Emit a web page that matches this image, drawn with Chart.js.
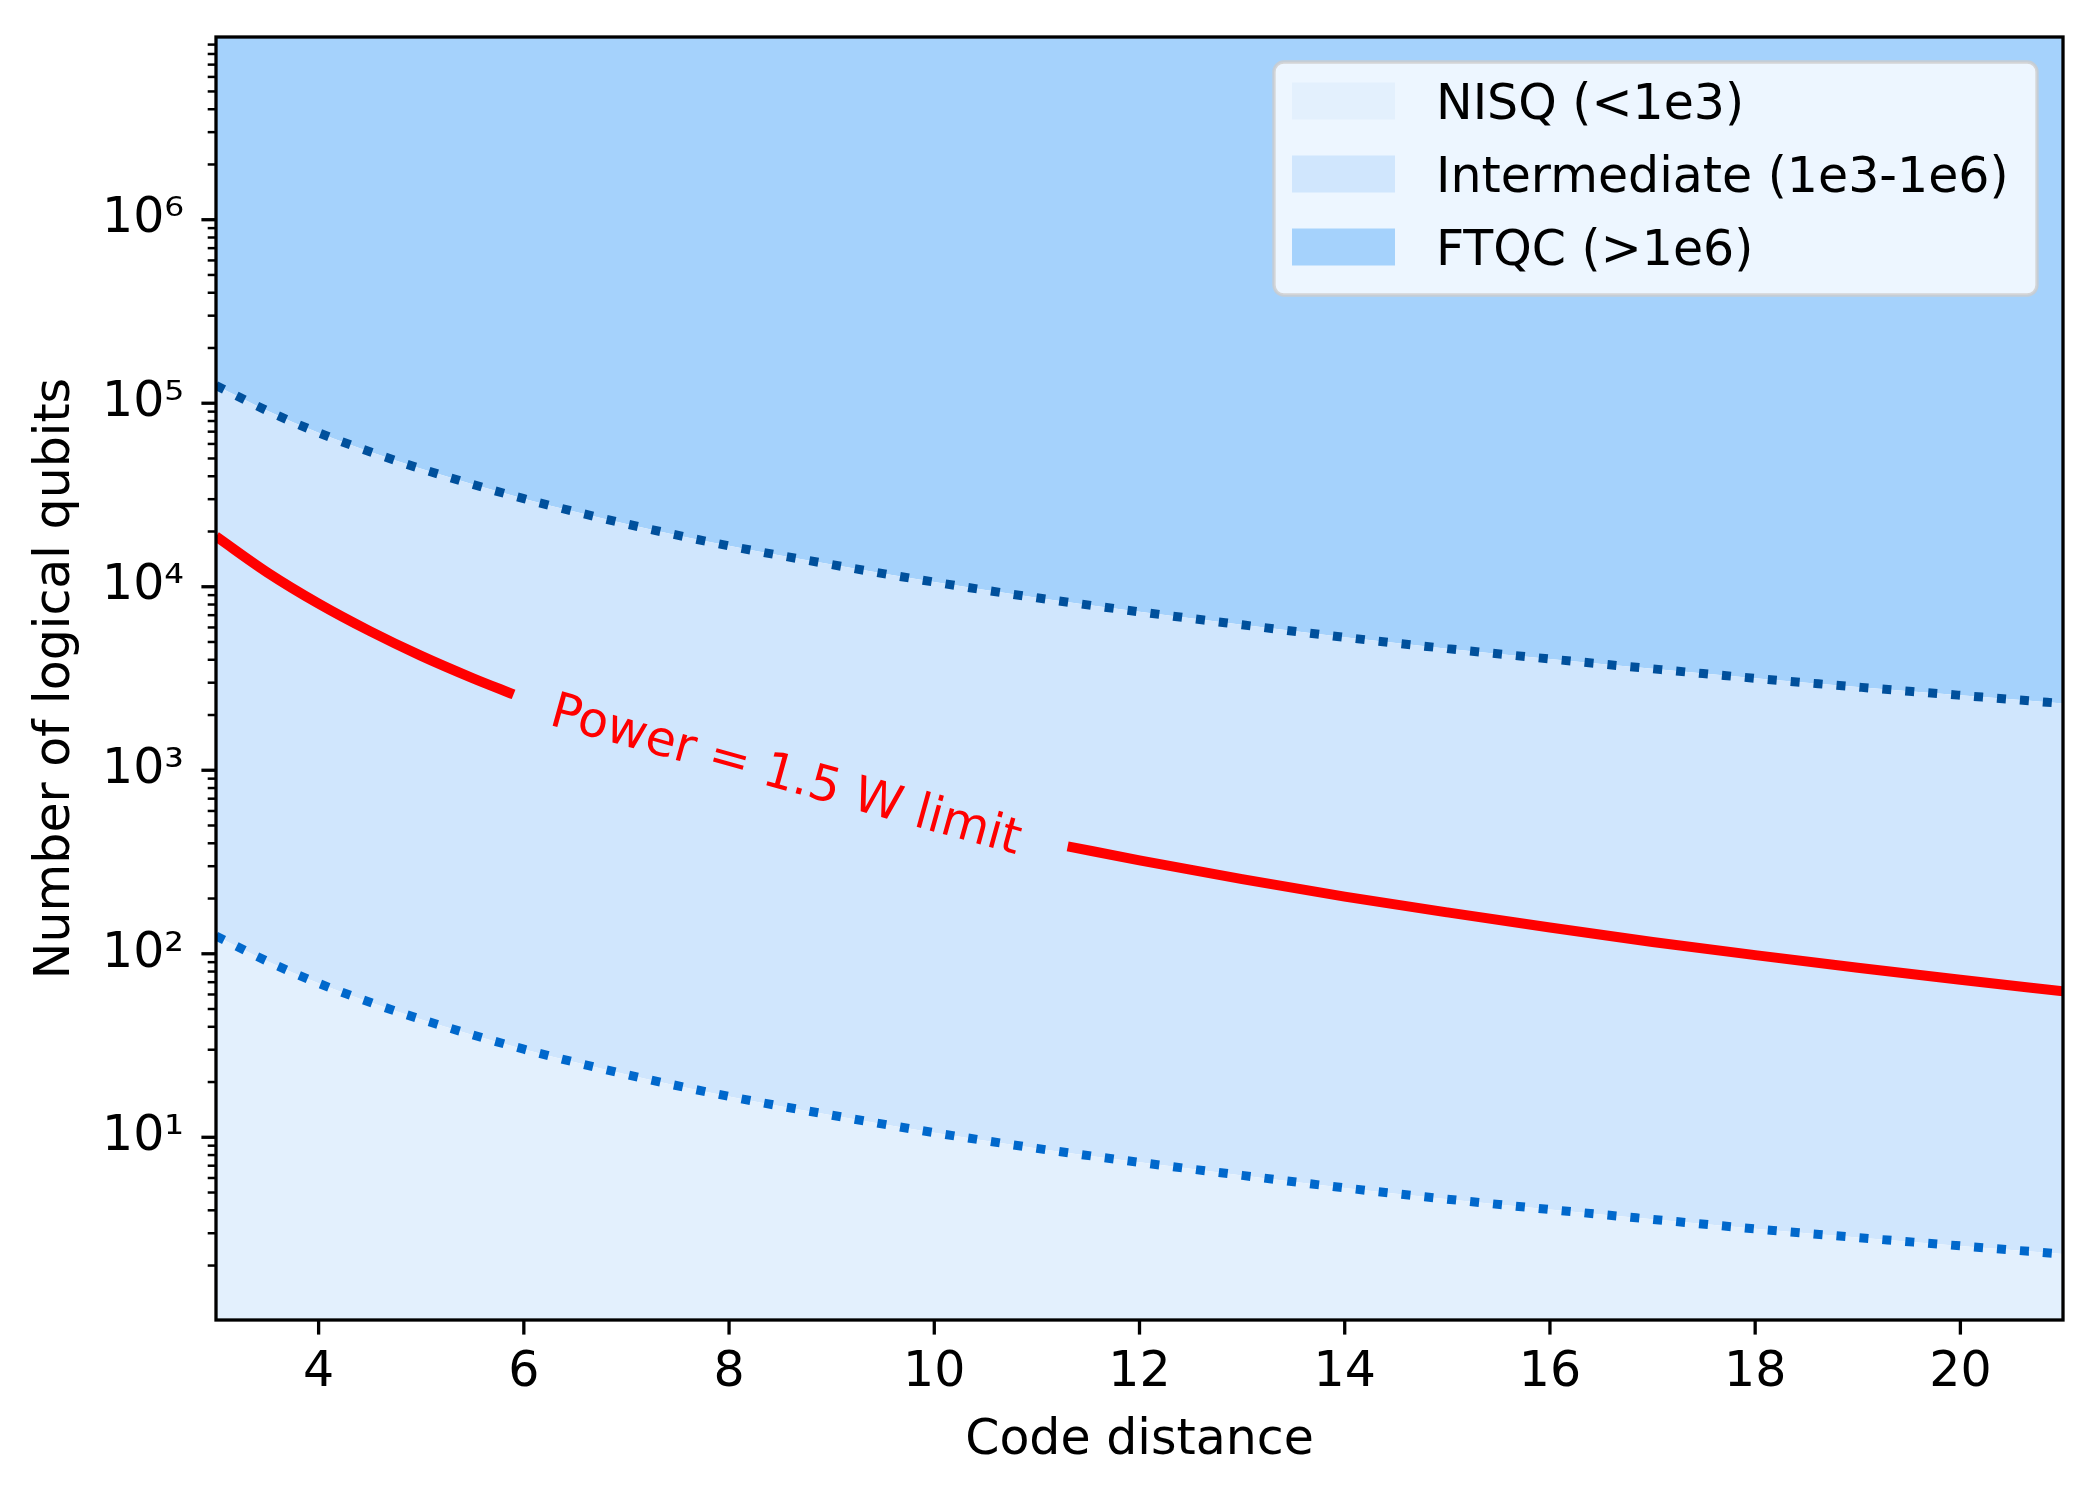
<!DOCTYPE html>
<html>
<head>
<meta charset="utf-8">
<script src="https://cdn.jsdelivr.net/npm/chart.js@4.4.0/dist/chart.umd.min.js"></script>
<style>
  body { margin: 0; background: #fff; }
  #wrap { width: 2100px; height: 1500px; }
</style>
</head>
<body>
<div id="wrap"><canvas id="chart" width="2100" height="1500"></canvas></div>
<script>
// values
const distances = [3, 3.5, 4, 4.5, 5, 6, 7, 8, 9, 10, 11, 12, 13, 14, 15, 16, 17, 18, 19, 20, 21];
const nisqLimit = [125, 91, 69, 54.4, 43.9, 30.2, 22.0, 16.7, 13.2, 10.6, 8.7, 7.3, 6.2, 5.3, 4.6, 4.04, 3.57, 3.17, 2.84, 2.56, 2.31];
const ftqcLimit = [125000, 91000, 69000, 54400, 43900, 30200, 22000, 16700, 13200, 10600, 8700, 7300, 6200, 5300, 4600, 4040, 3570, 3170, 2840, 2560, 2310];

// red power curve, broken where the label sits (null = gap)
const powerDistances = [3, 3.5, 4, 4.5, 5, 5.5, 5.9, 8.6, 11.3, 12, 13, 14, 15, 16, 17, 18, 19, 20, 21];
const powerQubits = [18800, 11960, 8090, 5730, 4200, 3180, 2590, null, 385, 323, 255, 205, 168, 139, 116, 98.3, 83.9, 72.1, 62.5];

const regionLabels = ['NISQ (<1e3)', 'Intermediate (1e3-1e6)', 'FTQC (>1e6)'];
const regionColors = ['#e3f0fd', '#d0e6fd', '#a5d2fc'];

const xTicks = [4, 6, 8, 10, 12, 14, 16, 18, 20];
const yMajorTicks = [10, 100, 1000, 10000, 100000, 1000000];
const yTickLabels = ['10\u00b9', '10\u00b2', '10\u00b3', '10\u2074', '10\u2075', '10\u2076'];
const yMin = 1.01, yMax = 9.9e6;

const powerLabel = 'Power = 1.5 W limit';
const powerLabelAt = {x: 8.55, y: 917};

const FONT = '"DejaVu Sans", sans-serif';
Chart.defaults.font.family = FONT;
Chart.defaults.font.size = 49;
Chart.defaults.color = '#000';

const pts = (xs, ys) => xs.map((x, i) => ({x: x, y: ys[i]}));

// all log ticks (1..9 x 10^n) inside the range
let yAllTicks = [];
[1, 10, 100, 1000, 10000, 100000, 1000000].forEach(dec => {
  for (let m = 1; m <= 9; m++) {
    let v = m * dec;
    if (m === 1 && yMajorTicks.includes(dec)) v = dec;
    if (v >= yMin && v <= yMax) yAllTicks.push(v);
  }
});

const decor = {
  id: 'decor',
  beforeDraw(chart) {
    const c = chart.ctx;
    c.save();
    c.fillStyle = '#fff';
    c.fillRect(0, 0, chart.width, chart.height);
    c.restore();
  },
  afterDatasetsDraw(chart) {
    const c = chart.ctx;
    const a = chart.chartArea;
    const xs = chart.scales.x, ys = chart.scales.y;

    // inline label on the power curve
    c.save();
    c.translate(xs.getPixelForValue(powerLabelAt.x), ys.getPixelForValue(powerLabelAt.y));
    c.rotate(15.5 * Math.PI / 180);
    c.font = '49px ' + FONT;
    c.fillStyle = '#ff0000';
    c.textAlign = 'center';
    c.textBaseline = 'middle';
    c.fillText(powerLabel, 0, 0);
    c.restore();

    // frame
    c.save();
    c.strokeStyle = '#000';
    c.lineWidth = 3.3;
    c.strokeRect(a.left, a.top, a.right - a.left, a.bottom - a.top);

    // x ticks
    xTicks.forEach(v => {
      const px = xs.getPixelForValue(v);
      c.beginPath();
      c.moveTo(px, a.bottom);
      c.lineTo(px, a.bottom + 14.6);
      c.stroke();
    });
    // y ticks, major and minor
    yAllTicks.forEach(v => {
      const py = ys.getPixelForValue(v);
      const major = yMajorTicks.includes(v);
      c.lineWidth = major ? 3.3 : 2.5;
      c.beginPath();
      c.moveTo(a.left, py);
      c.lineTo(a.left - (major ? 14.6 : 8.3), py);
      c.stroke();
    });
    c.restore();
  },
  afterDraw(chart) {
    // legend box in the upper right corner
    const c = chart.ctx;
    const bx = 1274, by = 62, bw = 763, bh = 233;
    c.save();
    c.beginPath();
    c.roundRect(bx, by, bw, bh, 10);
    c.fillStyle = 'rgba(255,255,255,0.8)';
    c.fill();
    c.lineWidth = 3.3;
    c.strokeStyle = 'rgba(204,204,204,0.8)';
    c.stroke();
    c.font = '49px ' + FONT;
    c.textAlign = 'left';
    c.textBaseline = 'alphabetic';
    regionLabels.forEach((lab, i) => {
      const cy = 101 + i * 73;
      c.fillStyle = regionColors[i];
      c.fillRect(1292, cy - 18.5, 103, 37);
      c.fillStyle = '#000';
      c.fillText(lab, 1436, cy + 18);
    });
    c.restore();
  }
};

const ctx = document.getElementById('chart');
new Chart(ctx, {
  type: 'line',
  data: {
    datasets: [
      {label: regionLabels[0], data: pts(distances, nisqLimit), fill: 'start',
       backgroundColor: regionColors[0], borderWidth: 0, pointRadius: 0, order: 5},
      {label: regionLabels[1], data: pts(distances, ftqcLimit), fill: '-1',
       backgroundColor: regionColors[1], borderWidth: 0, pointRadius: 0, order: 5},
      {label: regionLabels[2], data: pts(distances, ftqcLimit), fill: 'end',
       backgroundColor: regionColors[2], borderWidth: 0, pointRadius: 0, order: 5},
      {label: 'NISQ boundary', data: pts(distances, nisqLimit), fill: false,
       borderColor: '#0068cc', borderWidth: 9, borderDash: [9, 14], pointRadius: 0, order: 2},
      {label: 'FTQC boundary', data: pts(distances, ftqcLimit), fill: false,
       borderColor: '#00509c', borderWidth: 9, borderDash: [9, 14], pointRadius: 0, order: 2},
      {label: 'Power limit', data: pts(powerDistances, powerQubits), fill: false,
       borderColor: '#ff0000', borderWidth: 10, pointRadius: 0, spanGaps: false, order: 1}
    ]
  },
  options: {
    responsive: false,
    animation: false,
    cubicInterpolationMode: 'monotone',
    layout: {padding: {top: 37, right: 37, left: 0, bottom: 0}},
    plugins: {
      legend: {display: false},
      tooltip: {enabled: false},
      filler: {propagate: false}
    },
    scales: {
      x: {
        type: 'linear',
        min: 3, max: 21,
        grid: {display: false, drawTicks: false},
        border: {display: false},
        afterBuildTicks: s => { s.ticks = xTicks.map(v => ({value: v})); },
        afterFit: s => { s.height = 180; s.paddingLeft = 0; s.paddingRight = 0; },
        ticks: {padding: 24, autoSkip: false, maxRotation: 0, callback: v => String(v)},
        title: {display: true, text: 'Code distance', padding: {top: 0, bottom: 29}}
      },
      y: {
        type: 'logarithmic',
        min: yMin, max: yMax,
        grid: {display: false, drawTicks: false},
        border: {display: false},
        afterBuildTicks: s => { s.ticks = yAllTicks.map(v => ({value: v, major: yMajorTicks.includes(v)})); },
        afterFit: s => { s.width = 216; s.paddingTop = 0; s.paddingBottom = 0; },
        ticks: {
          padding: 32, autoSkip: false,
          callback: v => { const i = yMajorTicks.indexOf(v); return i >= 0 ? yTickLabels[i] : ''; }
        },
        title: {display: true, text: 'Number of logical qubits', padding: {top: 27, bottom: 0}}
      }
    }
  },
  plugins: [decor]
});
</script>
</body>
</html>
